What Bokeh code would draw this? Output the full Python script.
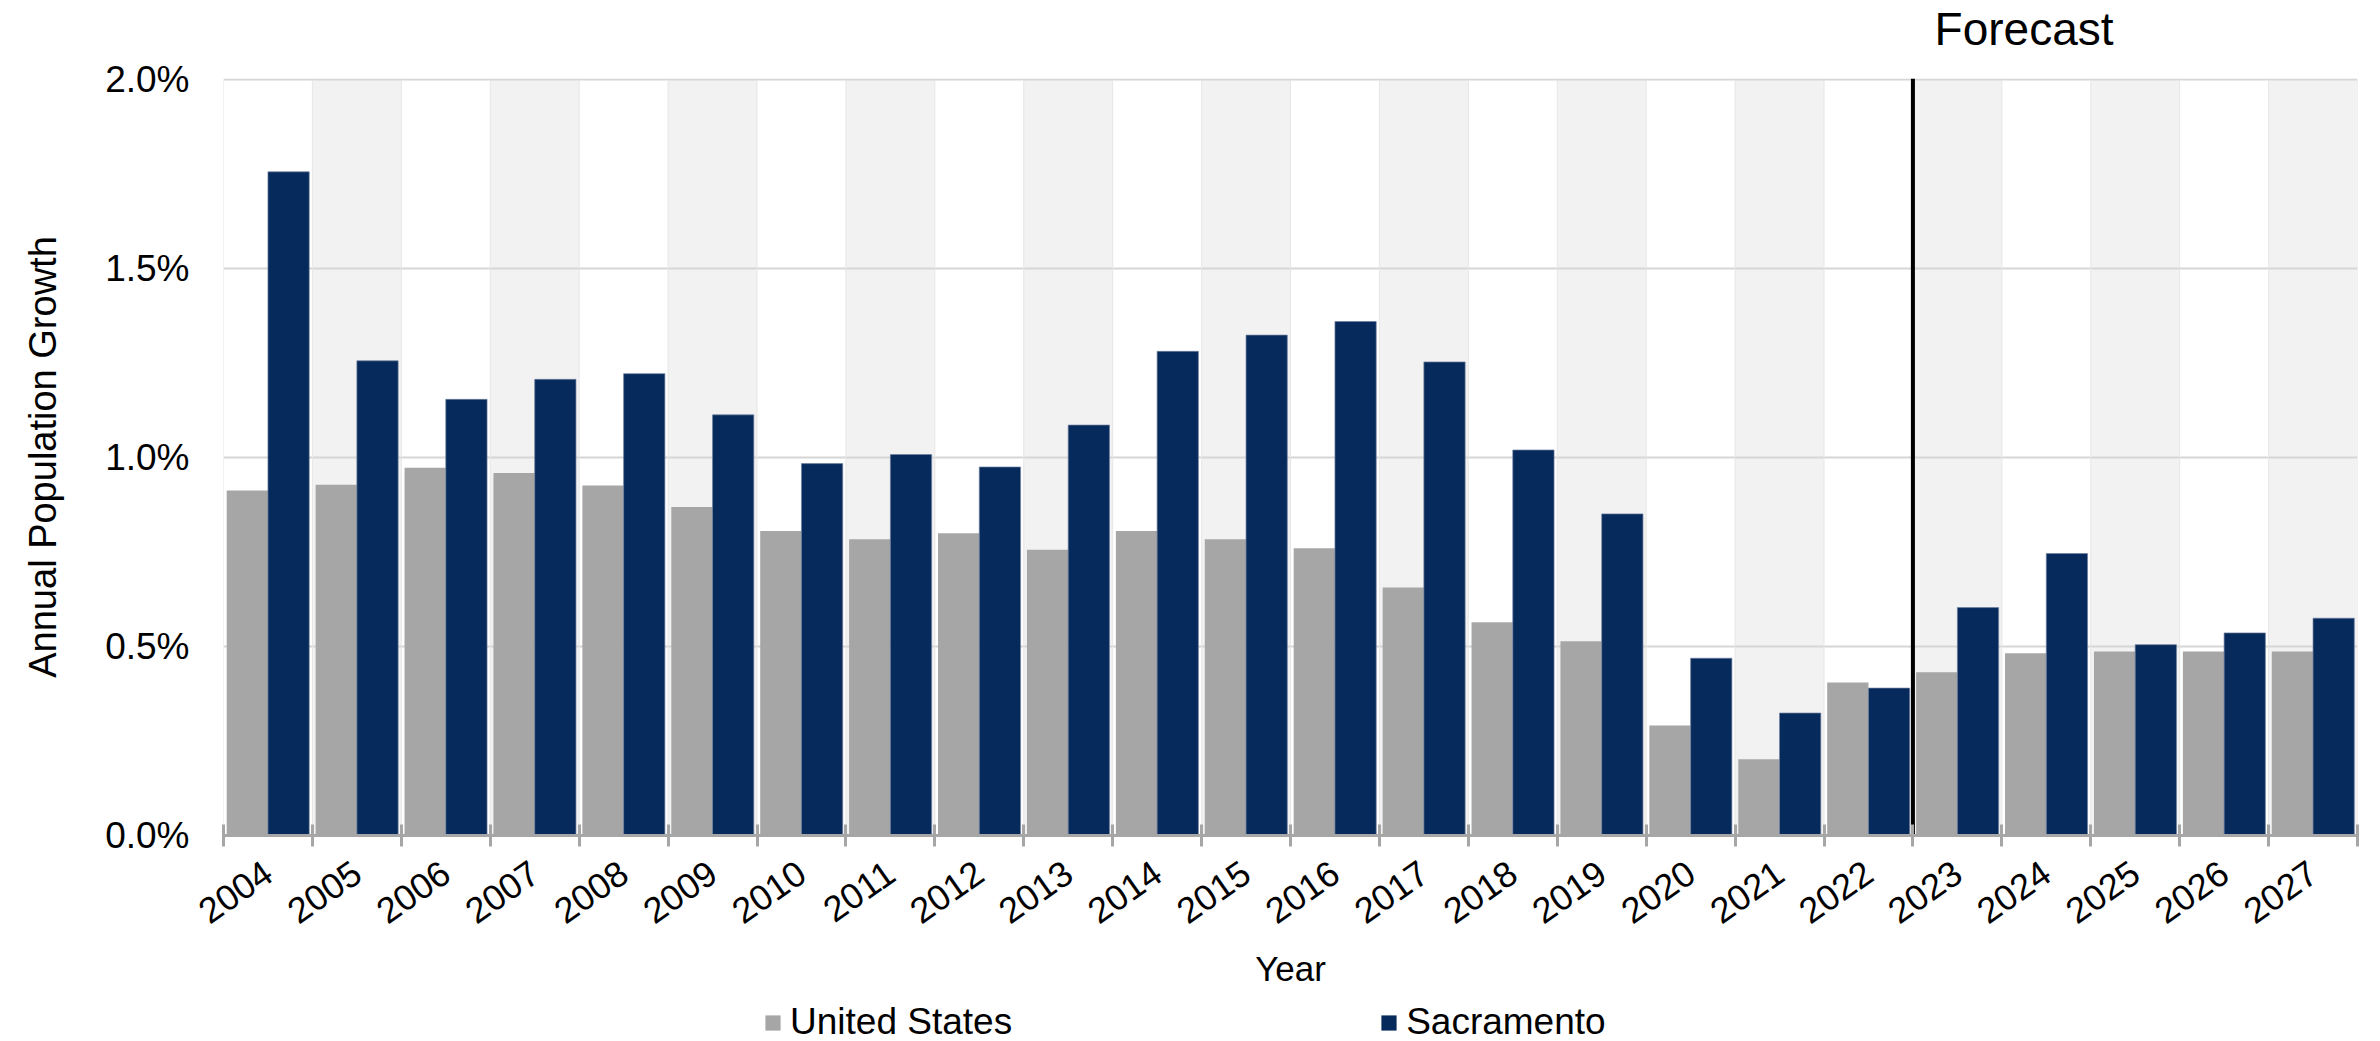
import math
from bokeh.plotting import figure
from bokeh.layouts import column
from bokeh.models import (ColumnDataSource, FixedTicker, Label, Legend,
                          LegendItem, PrintfTickFormatter, Range1d, CustomJSTickFormatter)
from bokeh.transform import dodge
from bokeh.embed import file_html
from bokeh.resources import INLINE

# Annual population growth, percent
years = ["2004", "2005", "2006", "2007", "2008", "2009", "2010", "2011",
         "2012", "2013", "2014", "2015", "2016", "2017", "2018", "2019",
         "2020", "2021", "2022", "2023", "2024", "2025", "2026", "2027"]
us_growth = [0.913, 0.928, 0.973, 0.959, 0.926, 0.869, 0.806, 0.784,
             0.800, 0.756, 0.806, 0.784, 0.760, 0.656, 0.564, 0.514,
             0.291, 0.202, 0.405, 0.432, 0.482, 0.487, 0.487, 0.487]
sac_growth = [1.756, 1.256, 1.154, 1.207, 1.222, 1.113, 0.984, 1.008,
              0.975, 1.086, 1.281, 1.324, 1.360, 1.253, 1.020, 0.851,
              0.469, 0.324, 0.390, 0.603, 0.746, 0.505, 0.536, 0.575]
y_ticks = [0.0, 0.5, 1.0, 1.5, 2.0]
forecast_start = "2023"

FONT = "Liberation Sans"
US_COLOR = "#A6A6A6"
SAC_COLOR = "#062A5C"
SAC_EDGE = "#6d7f9c"
LEFT, RIGHT = 223, 23
HEAD_H, PLOT_TOP, PLOT_H, LEG_H = 54, 24, 946, 41

n = len(years)
centers = [i + 0.5 for i in range(n)]
edges = list(range(n + 1))
y_top = y_ticks[-1]
fi = years.index(forecast_start)
source = ColumnDataSource(dict(x=centers, year=years, us=us_growth, sac=sac_growth))
x_range = Range1d(0, n)


def strip(height, xr, yr):
    """A bare figure used for the heading and legend rows."""
    f = figure(width=2380, height=height, x_range=xr, y_range=yr,
               output_backend="svg", toolbar_location=None,
               x_axis_location=None, y_axis_location=None,
               min_border_left=LEFT, min_border_right=RIGHT,
               min_border_top=0, min_border_bottom=0)
    f.outline_line_color = None
    f.grid.visible = False
    return f


# heading row with the "Forecast" caption over the forecast years
head = strip(HEAD_H, x_range, Range1d(0, HEAD_H))
head.add_layout(Label(x=fi + 1.25, y=HEAD_H - 28.5, text="Forecast",
                      text_align="center", text_baseline="alphabetic",
                      text_font=FONT, text_font_size="46px", text_color="black"))

# main chart
p = figure(width=2380, height=PLOT_H,
           x_range=x_range, y_range=Range1d(0, y_top + 0.003),
           output_backend="svg", toolbar_location=None,
           min_border_left=LEFT, min_border_right=RIGHT,
           min_border_top=PLOT_TOP, min_border_bottom=165)
p.outline_line_color = None
p.background_fill_color = "white"
p.xgrid.visible = False

# alternating shaded year bands
band_x = [c for i, c in enumerate(centers) if i % 2 == 1]
p.vbar(x=band_x, width=1.0, bottom=0, top=y_top + 0.003,
       fill_color="#F2F2F2", line_color=None, level="image")

# horizontal gridlines
p.ygrid.ticker = FixedTicker(ticks=y_ticks)
p.ygrid.grid_line_color = "#D6D6D6"
p.ygrid.grid_line_width = 2

# thin separators between years
p.segment(x0=edges, y0=[0] * len(edges), x1=edges, y1=[y_top] * len(edges),
          line_color="#E6E6E6", line_width=1)

us_r = p.vbar(x=dodge("x", -0.232, range=p.x_range), top="us", width=0.464,
              source=source, fill_color=US_COLOR, line_color=None)
sac_r = p.vbar(x=dodge("x", 0.232, range=p.x_range), top="sac", width=0.464,
               source=source, fill_color=SAC_COLOR, line_color=SAC_EDGE,
               line_width=1, line_alpha=0.7)

# forecast divider
p.segment(x0=[fi], y0=[0], x1=[fi], y1=[y_top + 0.003],
          line_color="black", line_width=4)

# x axis: labels at band centres, tick marks at band edges
xa = p.xaxis[0]
xa.ticker = FixedTicker(ticks=centers, minor_ticks=edges)
xa.formatter = CustomJSTickFormatter(args=dict(labels=years),
                                     code="return labels[Math.floor(tick)];")
xa.major_tick_in = 0
xa.major_tick_out = 0
xa.minor_tick_in = 11
xa.minor_tick_out = 11
xa.minor_tick_line_color = US_COLOR
xa.minor_tick_line_width = 3
xa.axis_line_color = US_COLOR
xa.axis_line_width = 3
xa.major_label_orientation = math.radians(35)
xa.major_label_standoff = 22
xa.major_label_text_font = FONT
xa.major_label_text_font_size = "36px"
xa.major_label_text_color = "black"
xa.axis_label = "Year"
xa.axis_label_text_font = FONT
xa.axis_label_text_font_style = "normal"
xa.axis_label_text_font_size = "35px"
xa.axis_label_text_color = "black"
xa.axis_label_standoff = 10

ya = p.yaxis[0]
ya.ticker = FixedTicker(ticks=y_ticks)
ya.formatter = PrintfTickFormatter(format="%.1f%%")
ya.axis_line_color = None
ya.major_tick_in = 0
ya.major_tick_out = 0
ya.minor_tick_in = 0
ya.minor_tick_out = 0
ya.major_label_standoff = 34
ya.major_label_text_font = FONT
ya.major_label_text_font_size = "37px"
ya.major_label_text_color = "black"
ya.axis_label = "Annual Population Growth"
ya.axis_label_text_font = FONT
ya.axis_label_text_font_style = "normal"
ya.axis_label_text_font_size = "38px"
ya.axis_label_text_color = "black"
ya.axis_label_standoff = 38

# legend row under the chart; the key renderers are empty (zero-height) bars
lg = strip(LEG_H, Range1d(0, 1), Range1d(0, 1))
us_key = lg.vbar(x=[0.5], bottom=[0], top=[0], width=0.0,
                 fill_color=US_COLOR, line_color=None)
sac_key = lg.vbar(x=[0.5], bottom=[0], top=[0], width=0.0,
                  fill_color=SAC_COLOR, line_color=None)
legend = Legend(items=[LegendItem(label="United States", renderers=[us_key]),
                       LegendItem(label="Sacramento", renderers=[sac_key])],
                orientation="horizontal", location=(763 - LEFT, -2),
                glyph_width=19, glyph_height=19, label_standoff=8,
                spacing=367, padding=0, margin=0,
                label_text_font=FONT, label_text_font_size="37px",
                label_text_color="black",
                border_line_color=None, background_fill_alpha=0)
lg.add_layout(legend, "center")

layout = column(head, p, lg, spacing=0)
open("out.html", "w").write(file_html(layout, INLINE))
